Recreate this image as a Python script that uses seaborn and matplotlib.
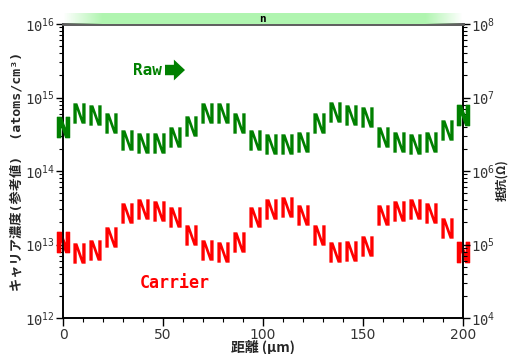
import numpy as np
import matplotlib
matplotlib.use("Agg")
import matplotlib.pyplot as plt
import seaborn as sns
from matplotlib.textpath import TextPath
from matplotlib.font_manager import FontProperties
from matplotlib.path import Path
from matplotlib.ticker import MultipleLocator, LogLocator, NullFormatter

# ---- data ----
depth_um = [0, 8, 16, 24, 32, 40, 48, 56, 64, 72, 80, 88, 96, 104, 112, 120,
            128, 136, 144, 152, 160, 168, 176, 184, 192, 200]
resistance_raw = [4.0e6, 6.2e6, 5.8e6, 4.5e6, 2.6e6, 2.4e6, 2.4e6, 2.9e6, 4.1e6,
                  6.2e6, 6.2e6, 4.5e6, 2.6e6, 2.3e6, 2.3e6, 2.5e6, 4.5e6, 6.4e6,
                  5.8e6, 5.4e6, 2.9e6, 2.5e6, 2.3e6, 2.5e6, 3.6e6, 5.8e6]
carrier = [1.08e13, 7.7e12, 8.4e12, 1.26e13, 2.7e13, 3.0e13, 2.9e13, 2.4e13, 1.35e13,
           8.4e12, 7.9e12, 1.08e13, 2.4e13, 3.0e13, 3.2e13, 2.5e13, 1.35e13, 7.9e12,
           8.2e12, 9.5e12, 2.5e13, 2.9e13, 3.0e13, 2.7e13, 1.7e13, 7.9e12]
x_ticks = [0, 50, 100, 150, 200]
band_label = "n"

sns.set_style("ticks")
plt.rcParams['font.family'] = ['DejaVu Sans Mono', 'Noto Sans CJK JP', 'DejaVu Sans']

GREEN = "#008000"
RED = "#ff0000"
TICKC = "#333333"

# narrow "N" marker path
tp = TextPath((0, 0), "N", size=1, prop=FontProperties(family="DejaVu Sans", weight="bold"))
v = tp.vertices.copy()
codes = tp.codes
real = codes != Path.CLOSEPOLY
cx = (v[real, 0].min() + v[real, 0].max()) / 2
cy = (v[real, 1].min() + v[real, 1].max()) / 2
v[:, 0] -= cx
v[:, 1] -= cy
h = v[real, 1].max() - v[real, 1].min()
w = v[real, 0].max() - v[real, 0].min()
v[:, 0] *= (0.60 * h / w)
v[~real] = 0.0
N_MARK = Path(v, codes)

fig = plt.figure(figsize=(5.08, 3.54), dpi=100)
L, B, W, H = 63 / 508, 36 / 354, 400 / 508, 294 / 354
ax = fig.add_axes([L, B, W, H])
ax2 = ax.twinx()

S = 215
ends = [0, len(depth_um) - 1]
sns.scatterplot(x=depth_um, y=carrier, ax=ax, marker=N_MARK, s=S, color=RED,
                linewidth=0, zorder=3, legend=False, clip_on=False)
sns.scatterplot(x=[depth_um[i] for i in ends], y=[carrier[i] for i in ends], ax=ax,
                marker=N_MARK, s=S, color=RED, edgecolor=RED, linewidth=0.9,
                zorder=3, legend=False, clip_on=False)
sns.scatterplot(x=depth_um, y=resistance_raw, ax=ax2, marker=N_MARK, s=S, color=GREEN,
                linewidth=0, zorder=3, legend=False, clip_on=False)
sns.scatterplot(x=[depth_um[i] for i in ends], y=[resistance_raw[i] for i in ends], ax=ax2,
                marker=N_MARK, s=S, color=GREEN, edgecolor=GREEN, linewidth=0.9,
                zorder=3, legend=False, clip_on=False)

ax.set_yscale("log")
ax2.set_yscale("log")
ax.set_ylim(1e12, 1e16)
ax2.set_ylim(1e4, 1e8)
ax.set_xlim(0, 200)
ax.set_xticks(x_ticks)
ax.set_xticklabels([str(t) for t in x_ticks])
ax.xaxis.set_minor_locator(MultipleLocator(10))
for a in (ax, ax2):
    a.yaxis.set_major_locator(LogLocator(base=10, numticks=10))
    a.yaxis.set_minor_locator(LogLocator(base=10, subs=np.arange(2, 10), numticks=20))
    a.yaxis.set_minor_formatter(NullFormatter())
    a.tick_params(axis="both", which="major", direction="out", length=5, width=1,
                  colors="black", labelcolor=TICKC, labelsize=10, pad=1)
    a.tick_params(axis="both", which="minor", direction="out", length=3, width=0.8,
                  colors="black")
    a.set_facecolor("none")
    for s in a.spines.values():
        s.set_visible(True)
        s.set_color("black")
        s.set_linewidth(1.2)
    a.spines["top"].set_color("#606060")
    a.spines["top"].set_linewidth(2)
ax.tick_params(axis="x", which="major", length=6)
for lab in ax.get_xticklabels():
    lab.set_fontfamily(['DejaVu Sans'])

ax.set_xlabel("距離 (μm)", fontsize=10, fontweight="bold", labelpad=-1,
              family=['Noto Sans CJK JP', 'DejaVu Sans'])
ax.set_ylabel("キャリア濃度(参考値)  (atoms/cm³)", fontsize=9.5, fontweight="bold", labelpad=1)
ax2.set_ylabel("抵抗(Ω)", fontsize=8.5, fontweight="bold", rotation=90,
               family=['Noto Sans CJK JP', 'DejaVu Sans'])
ax2.yaxis.set_label_coords(1.08, 0.47)

# annotations
ax.text(0.175, 0.8435, "Raw", transform=ax.transAxes, ha="left", va="center",
        color=GREEN, fontsize=11.5, fontweight="bold")
ax.annotate("", xy=(0.305, 0.8435), xytext=(0.255, 0.8435), xycoords="axes fraction",
            textcoords="axes fraction",
            arrowprops=dict(arrowstyle="simple,head_length=0.8,head_width=1.5,tail_width=0.75",
                            color=GREEN, lw=0, shrinkA=0, shrinkB=0))
ax.text(0.1925, 0.119, "Carrier", transform=ax.transAxes, ha="left", va="center",
        color=RED, fontsize=12, fontweight="bold")

# top band with gradient
bax = fig.add_axes([L, 330 / 354, W, 11 / 354])
n = 400
alpha = np.ones(n)
alpha[:40] = np.linspace(0, 1, 40)
alpha[-38:] = np.linspace(1, 0, 38)
img = np.zeros((1, n, 4))
img[..., 0] = 176 / 255
img[..., 1] = 245 / 255
img[..., 2] = 176 / 255
img[..., 3] = alpha
bax.imshow(img, aspect="auto", extent=(0, 1, 0, 1), interpolation="bilinear")
bax.set_xlim(0, 1)
bax.set_ylim(0, 1)
bax.axis("off")
bax.text(0.5, 0.45, band_label, ha="center", va="center", fontsize=8, fontweight="bold",
         color="black")

fig.savefig("out.png", dpi=100)
